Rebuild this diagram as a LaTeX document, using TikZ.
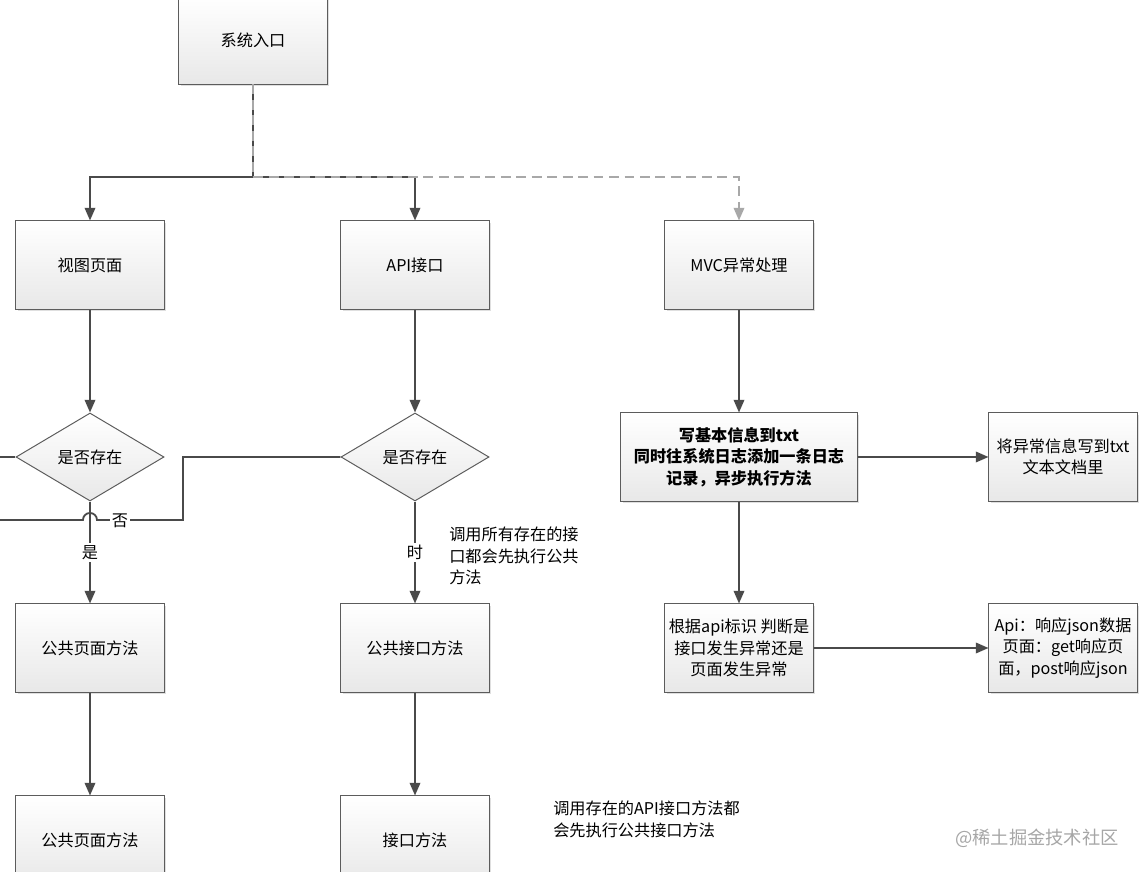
\documentclass[tikz,border=0pt]{standalone}
\usepackage{fontspec}
\setmainfont{Noto Sans CJK SC}
\usetikzlibrary{shapes.geometric, arrows.meta, positioning, shadows}
\definecolor{linegray}{HTML}{4A4A4A}
\definecolor{dashgray}{HTML}{A8A8A8}
\definecolor{framegray}{HTML}{5C5C5C}
\tikzset{
  box/.style={draw=framegray, line width=0.7pt, top color=white, bottom color=black!9,
    minimum width=3.7cm, minimum height=2.2cm, align=center, inner sep=2pt,
    drop shadow={opacity=0.25, shadow xshift=1.2pt, shadow yshift=-1.2pt}},
  decide/.style={diamond, draw=framegray, line width=0.7pt, top color=white, bottom color=black!9,
    minimum width=3.7cm, minimum height=2.2cm, inner sep=0pt, aspect=1.68},
  plain/.style={draw=linegray, line width=1.3pt},
  link/.style={plain, -{Triangle[length=9pt,width=7.5pt]}},
  weak/.style={draw=dashgray, line width=1.3pt, dash pattern=on 7pt off 4pt,
    -{Triangle[length=9pt,width=7.5pt]}},
  note/.style={align=left, inner sep=0pt, anchor=north west},
  lbl/.style={fill=white, inner sep=1.5pt},
}
\begin{document}
\begin{tikzpicture}[x=0.025cm, y=-0.025cm, font=\fontsize{11.5}{15.3}\selectfont]
\useasboundingbox (0,0) rectangle (1140,872);
\clip (0,0) rectangle (1140,872);

% boxes
\node[box] (entry) at (253,40) {系统入口};
\node[box] (view) at (90,265) {视图页面};
\node[box] (api) at (415,265) {API接口};
\node[box] (mvc) at (739,265) {MVC异常处理};

\node[decide] (askview) at (90,457) {是否存在};
\node[decide] (askapi) at (415,457) {是否存在};
\node[box, minimum width=5.9cm, font=\fontsize{11.5}{15.3}\selectfont\bfseries] (write) at (739,457)
  {写基本信息到txt\\同时往系统日志添加一条日志\\记录，异步执行方法};
\node[box] (logtxt) at (1063,457) {将异常信息写到txt\\文本文档里};

\node[box] (pubpage) at (90,648) {公共页面方法};
\node[box] (pubapi) at (415,648) {公共接口方法};
\node[box] (judge) at (739,648) {根据api标识 判断是\\接口发生异常还是\\页面发生异常};
\node[box] (resp) at (1063,648) {Api：响应json数据\\页面：get响应页\\面，post响应json};

\node[box] (pagefn) at (90,840) {公共页面方法};
\node[box] (apifn) at (415,840) {接口方法};

% notes
\node[note] (noteone) at (449,527) {调用所有存在的接\\口都会先执行公共\\方法};
\node[note] (notetwo) at (553,801) {调用存在的API接口方法都\\会先执行公共接口方法};
\node[text=black!35, font=\fontsize{13}{15}\selectfont] (mark) at (1037,838) {@稀土掘金技术社区};

% connectors
\coordinate (split) at (253,177);
\draw[link] (entry.south) -- (split) -| (view.north);
\draw[link] (split) -| (api.north);
\draw[weak] (entry.south) -- (split) -| (mvc.north);

\draw[link] (view) -- (askview);
\draw[link] (api) -- (askapi);
\draw[link] (askview.south) -- node[lbl] (yes) {是} (pubpage.north);
\draw[link] (askapi.south) -- node[lbl] (when) {时} (pubapi.north);

\coordinate (offleft) at (0,457);
\draw[plain] (askview.west) -- (offleft);

\coordinate (nobend) at (183,457);
\coordinate (nodown) at (183,520);
\coordinate (hop) at (97,520);
\coordinate (offno) at (0,520);
\draw[plain] (askapi.west) -- (nobend) -- (nodown) -- (hop)
  arc[start angle=0, end angle=180, radius=5pt] -- (offno);
\node[lbl] (no) at (120,521) {否};

\draw[link] (pubpage) -- (pagefn);
\draw[link] (pubapi) -- (apifn);

\draw[link] (mvc) -- (write);
\draw[link] (write) -- (logtxt);
\draw[link] (write) -- (judge);
\draw[link] (judge) -- (resp);
\end{tikzpicture}
\end{document}
